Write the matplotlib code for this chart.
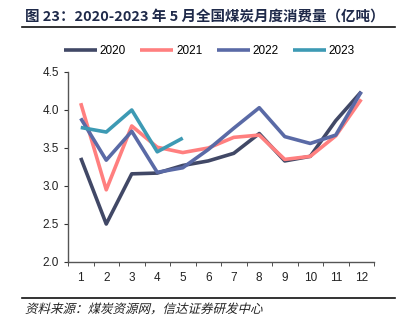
import matplotlib.pyplot as plt
import numpy as np
from matplotlib.textpath import TextPath
from matplotlib.patches import PathPatch
from matplotlib.font_manager import FontProperties
from matplotlib.transforms import Affine2D

plt.rcParams['font.family'] = ['Liberation Sans', 'Noto Sans CJK SC', 'DejaVu Sans']

months = list(range(1, 13))
y2020 = [3.37, 2.50, 3.16, 3.17, 3.27, 3.33, 3.43, 3.69, 3.33, 3.39, 3.86, 4.24]
y2021 = [4.09, 2.95, 3.79, 3.51, 3.44, 3.50, 3.64, 3.67, 3.35, 3.39, 3.66, 4.14]
y2022 = [3.89, 3.34, 3.72, 3.18, 3.24, 3.48, 3.76, 4.03, 3.65, 3.56, 3.67, 4.24]
y2023 = [3.77, 3.71, 4.00, 3.45, 3.63]

series = {
    '2020': (y2020, '#414866'),
    '2021': (y2021, '#ff7f7f'),
    '2022': (y2022, '#5a6aa6'),
    '2023': (y2023, '#3d9ab4'),
}

fig = plt.figure(figsize=(4.11, 3.33), dpi=100)
ax = fig.add_axes([68/411, 1-262/333, (374-68)/411, (262-72)/333])

for name, (vals, color) in series.items():
    x = np.arange(len(vals))
    ax.plot(x, vals, color=color, lw=2.6, label=name, solid_capstyle='butt')

ax.set_xlim(-0.5, 11.5)
ax.set_ylim(2.0, 4.5)
ax.set_yticks(np.arange(2.0, 4.51, 0.5))
ax.set_yticklabels([f'{v:.1f}' for v in np.arange(2.0, 4.51, 0.5)])
ax.set_xticks(np.arange(12))
ax.set_xticklabels([str(m) for m in months])
ax.set_xticks(np.arange(-0.5, 12, 1), minor=True)
ax.tick_params(axis='x', which='major', length=0, pad=7, labelsize=8.5, colors='#222222')
ax.tick_params(axis='x', which='minor', length=3, direction='out', color='#333333')
ax.tick_params(axis='y', length=3, direction='out', labelsize=8.5, colors='#222222', color='#333333')
for s in ['top', 'right']:
    ax.spines[s].set_visible(False)
for s in ['left', 'bottom']:
    ax.spines[s].set_color('#555555')
    ax.spines[s].set_linewidth(1.0)

ax.legend(loc='center', bbox_to_anchor=(0.462, 1 + 21/190), ncol=4, frameon=False,
          fontsize=8.5, handlelength=2.8, handletextpad=0.25, columnspacing=1.2,
          borderpad=0, borderaxespad=0)

fig.text(25/411, 1-17/333, '图 23：2020-2023 年 5 月全国煤炭月度消费量（亿吨）',
         fontsize=10.45, fontweight='bold', color='#1f2a4a', va='center', ha='left',
         family=['Noto Sans CJK SC', 'DejaVu Sans'])
fig.add_artist(plt.Line2D([22/411, 395/411], [1-27/333, 1-27/333], color='#111111', lw=1.2))
fig.add_artist(plt.Line2D([22/411, 395/411], [1-298/333, 1-298/333], color='#111111', lw=1.2))

# slanted source note (CJK font has no italic face)
src = '资料来源：煤炭资源网，信达证券研发中心'
tp = TextPath((0, 0), src, size=9, prop=FontProperties(family='Noto Sans CJK SC'))
tr = Affine2D().skew_deg(14, 0).scale(1/72).translate(25/100, (333-313)/100) + fig.dpi_scale_trans
fig.add_artist(PathPatch(tp, transform=tr, facecolor='#222222', edgecolor='none'))

fig.savefig('out.png', dpi=100)
